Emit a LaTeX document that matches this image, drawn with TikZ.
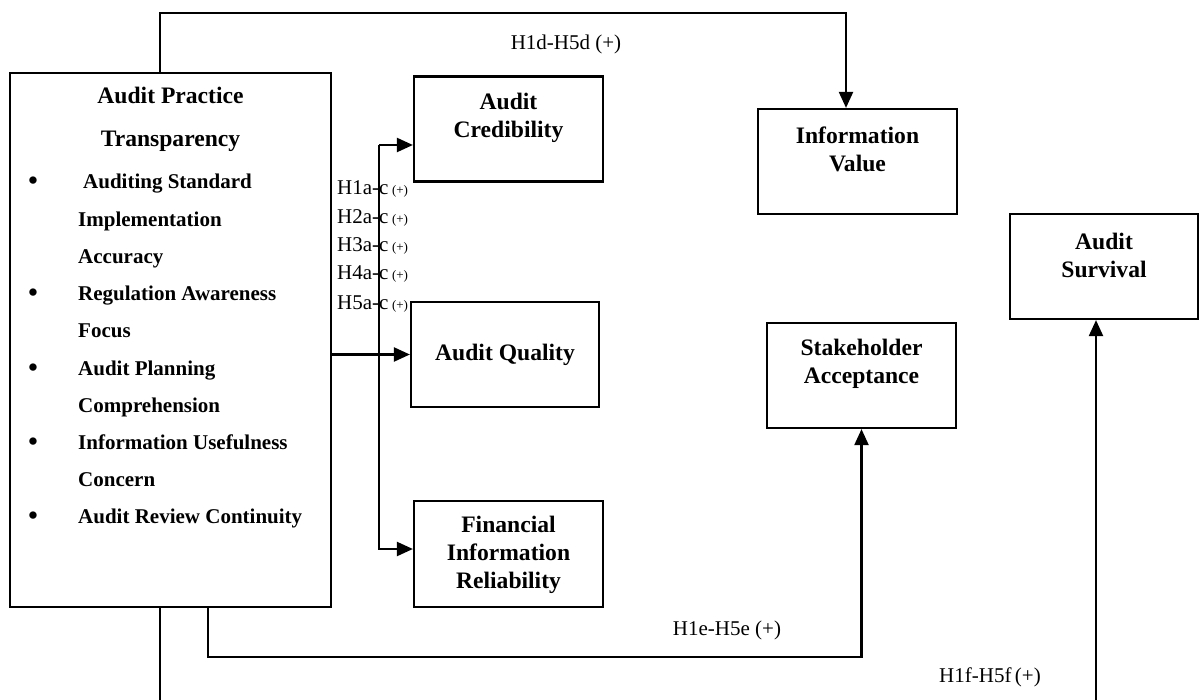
\documentclass[tikz,border=0pt]{standalone}
\usepackage{fontspec}
\setmainfont{Liberation Serif}
\usetikzlibrary{arrows.meta,calc}
\begin{document}
\begin{tikzpicture}[x=1pt,y=-1pt,
  box/.style={draw, line width=2.2pt, minimum width=189pt, minimum height=105pt, inner sep=0pt},
  boxtxt/.style={align=center, inner sep=0pt, font=\bfseries\fontsize{23.6}{28}\selectfont},
  conn/.style={line width=2.2pt},
  arr/.style={conn, -{Triangle[length=16pt,width=14pt]}},
  item/.style={anchor=base west, inner sep=0pt, font=\bfseries\fontsize{21}{25}\selectfont},
  dot/.style={anchor=base, inner sep=0pt, font=\bfseries\fontsize{27}{30}\selectfont},
  ttl/.style={anchor=base, inner sep=0pt, font=\bfseries\fontsize{23.6}{28}\selectfont},
  hyp/.style={inner sep=0pt, font=\fontsize{21}{25}\selectfont},
  hypw/.style={hyp, anchor=base west},
]
\fill[white] (0,0) rectangle (1201,700);
\useasboundingbox (0,0) rectangle (1201,700);
\clip (0,0) rectangle (1201,700);

% independent variable
\node[draw, line width=2.2pt, minimum width=321pt, minimum height=534pt, inner sep=0pt] (ap) at (170.5,340) {};
\node[ttl] (apt1) at (170.5,104) {Audit Practice};
\node[ttl] (apt2) at (170.5,147) {Transparency};

\node[dot] (b1) at (33,190)   {\textbullet};
\node[item] (i1) at (83,189)     {Auditing Standard};
\node[item] (i1b) at (78,226.2)  {Implementation};
\node[item] (i1c) at (78,263.4)  {Accuracy};
\node[dot] (b2) at (33,301.6) {\textbullet};
\node[item] (i2) at (78,300.6)   {Regulation Awareness};
\node[item] (i2b) at (78,337.8)  {Focus};
\node[dot] (b3) at (33,376)   {\textbullet};
\node[item] (i3) at (78,375)     {Audit Planning};
\node[item] (i3b) at (78,412.2)  {Comprehension};
\node[dot] (b4) at (33,450.4) {\textbullet};
\node[item] (i4) at (78,449.4)   {Information Usefulness};
\node[item] (i4b) at (78,486.6)  {Concern};
\node[dot] (b5) at (33,524.8) {\textbullet};
\node[item] (i5) at (78,523.8)   {Audit Review Continuity};

% outcome boxes
\node[box] (cred) at (508.5,129) {};
\node[boxtxt] (credt) at (508.5,118) {Audit\\Credibility};
\node[box, minimum width=188pt] (qual) at (505,354.5) {};
\node[boxtxt] (qualt) at (505,355) {Audit Quality};
\node[box, minimum height=106pt] (fin) at (508.5,554) {};
\node[boxtxt] (fint) at (508.5,554.5) {Financial\\Information\\Reliability};
\node[box, minimum width=199pt] (info) at (857.5,161.5) {};
\node[boxtxt] (infot) at (857.5,149) {Information\\Value};
\node[box] (stake) at (861.5,375.5) {};
\node[boxtxt] (staket) at (861.5,364) {Stakeholder\\Acceptance};
\node[box, minimum width=188pt] (surv) at (1104,266.5) {};
\node[boxtxt] (survt) at (1104,255) {Audit\\Survival};

% hypothesis labels
\foreach \k/\y in {1/195,2/224,3/252,4/280,5/309}
  \node[hypw] (h\k) at (337,\y) {H\k a-c\,{\fontsize{13}{15}\selectfont(+)}};
\node[hyp] (hd) at (566,44) {H1d-H5d (+)};
\node[hyp] (he) at (727,630) {H1e-H5e (+)};
\node[hyp] (hf) at (990,677) {H1f-H5f\,(+)};

% connectors
\coordinate (busTop) at (379,145);
\coordinate (busBot) at (379,549);
\draw[arr] (busTop) -- (busTop -| cred.west);
\draw[arr] (busTop) |- (busBot -| fin.west);
\draw[arr] (ap.east |- qual.west) -- (qual.west);

\coordinate (apTop) at (160,73);
\coordinate (topRun) at (846,13);
\draw[arr] (apTop) |- (topRun) -- (topRun |- info.north);

\coordinate (apBotE) at (208,607);
\coordinate (runE) at (861.5,657);
\draw[arr] (apBotE) |- (runE) -- (runE |- stake.south);

\coordinate (apBotF) at (160,607);
\coordinate (runF) at (1096,720);
\draw[arr] (apBotF) |- (runF) -- (runF |- surv.south);
\end{tikzpicture}
\end{document}
